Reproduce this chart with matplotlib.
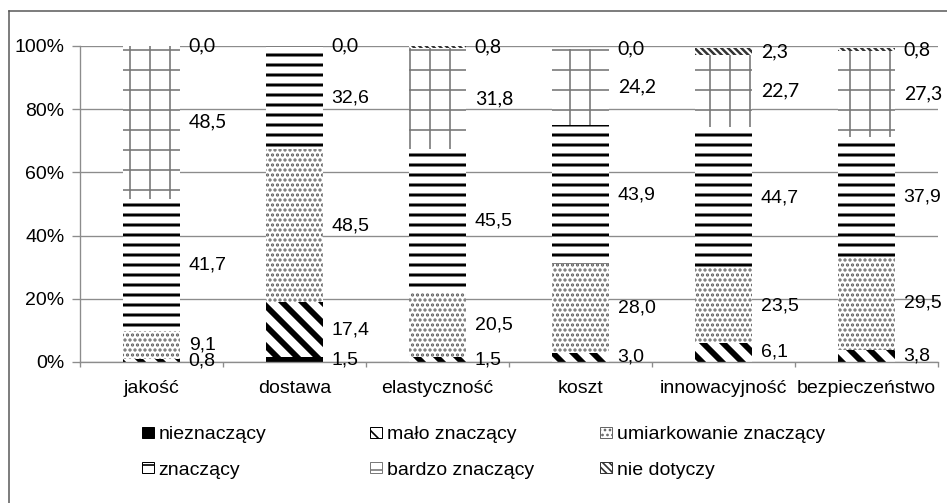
import matplotlib
matplotlib.use("Agg")
import matplotlib.pyplot as plt
import numpy as np
from matplotlib.patches import Patch
from matplotlib.lines import Line2D

# ---------------- data ----------------
categories = ["jakość", "dostawa", "elastyczność", "koszt", "innowacyjność", "bezpieczeństwo"]
series_names = ["nieznaczący", "mało znaczący", "umiarkowanie znaczący",
                "znaczący", "bardzo znaczący", "nie dotyczy"]
nieznaczacy = [np.nan, 1.5, np.nan, np.nan, np.nan, np.nan]
malo_znaczacy = [0.8, 17.4, 1.5, 3.0, 6.1, 3.8]
umiarkowanie_znaczacy = [9.1, 48.5, 20.5, 28.0, 23.5, 29.5]
znaczacy = [41.7, 32.6, 45.5, 43.9, 44.7, 37.9]
bardzo_znaczacy = [48.5, 0.0, 31.8, 24.2, 22.7, 27.3]
nie_dotyczy = [0.0, np.nan, 0.8, 0.0, 2.3, 0.8]
y_ticks = [0, 20, 40, 60, 80, 100]

series_values = [nieznaczacy, malo_znaczacy, umiarkowanie_znaczacy,
                 znaczacy, bardzo_znaczacy, nie_dotyczy]

# ---------------- styles ----------------
# (facecolor, hatch, hatch colour, hatch linewidth, label font)
styles = [
    ("black", None, "black", 1.0, "Liberation Sans"),
    ("white", "\\\\", "black", 3.5, "Liberation Sans"),
    ("white", "....", "#666666", 1.3, "Liberation Sans"),
    ("white", "--", "black", 1.8, "Liberation Sans"),
    ("white", "+", "#7a7a7a", 1.0, "Lato"),
    ("white", "\\\\\\\\\\\\", "#333333", 1.5, "Lato"),
]

DPI = 120
W, H = 947, 503
FS = 11.7
GRAY = "#8c8c8c"

plt.rcParams["font.family"] = ["Liberation Sans", "DejaVu Sans"]

fig = plt.figure(figsize=(W / DPI, H / DPI), dpi=DPI)
ax = fig.add_axes([80 / W, 1 - 362 / H, (938 - 80) / W, (362 - 46) / H])

x = np.arange(len(categories))
bar_w = 0.4
bottom = np.zeros(len(categories))
handles = {}
for name, vals, (fc, hatch, hc, hlw, lfont) in zip(series_names, series_values, styles):
    v = np.array(vals, dtype=float)
    vv = np.nan_to_num(v)
    with plt.rc_context({"hatch.linewidth": hlw}):
        bars = ax.bar(x, vv, bar_w, bottom=bottom, color=fc, edgecolor=hc,
                      linewidth=0, hatch=hatch, zorder=2)
        for p in bars:
            if hasattr(p, "set_hatch_linewidth"):
                p.set_hatch_linewidth(hlw)
        h = Patch(facecolor=fc, edgecolor=hc, hatch=hatch, linewidth=0.6)
        if hasattr(h, "set_hatch_linewidth"):
            h.set_hatch_linewidth(min(hlw, 2.0))
    handles[name] = h
    for i in range(len(categories)):
        if not np.isnan(v[i]):
            yc = bottom[i] + v[i] / 2
            ax.text(x[i] + bar_w / 2 + 0.06, yc, f"{v[i]:.1f}".replace(".", ","),
                    ha="left", va="center", fontsize=FS,
                    family=[lfont, "DejaVu Sans"], clip_on=False, zorder=5)
    bottom = bottom + vv

# ---------------- axes ----------------
ax.set_xlim(-0.5, len(categories) - 0.5)
ax.set_ylim(0, 100)
ax.set_yticks(y_ticks)
ax.set_yticklabels([f"{t}%" for t in y_ticks])
ax.set_xticks(x)
ax.set_xticklabels(categories)
ax.set_xticks(np.arange(-0.5, len(categories), 1.0), minor=True)
ax.tick_params(axis="y", length=4.8, width=0.8, color=GRAY, pad=4.5, labelsize=FS)
ax.tick_params(axis="x", which="major", length=0, pad=11, labelsize=FS)
ax.tick_params(axis="x", which="minor", length=3, width=0.8, color=GRAY)
for s in ["top", "right"]:
    ax.spines[s].set_visible(False)
for s in ["left", "bottom"]:
    ax.spines[s].set_color(GRAY)
    ax.spines[s].set_linewidth(0.8)
ax.yaxis.grid(True, color=GRAY, linewidth=0.8, zorder=0)
ax.set_axisbelow(True)

# ---------------- legend (3 columns at fixed positions) ----------------
legend_cols = [("nieznaczący", "znaczący"),
               ("mało znaczący", "bardzo znaczący"),
               ("umiarkowanie znaczący", "nie dotyczy")]
legend_x = [142, 370, 600]
for xp, names in zip(legend_x, legend_cols):
    fig.legend(handles=[handles[n] for n in names], labels=list(names),
               loc="upper left", bbox_to_anchor=(xp / W, 1 - 426 / H),
               frameon=False, borderpad=0, borderaxespad=0,
               handlelength=0.6, handleheight=0.5, handletextpad=0.25,
               labelspacing=0.95, fontsize=FS)

# ---------------- outer frame ----------------
fig.add_artist(Line2D([8.5 / W, 1.0], [1 - 10.5 / H, 1 - 10.5 / H],
                      transform=fig.transFigure, color="#555555", linewidth=0.9))
fig.add_artist(Line2D([8.5 / W, 8.5 / W], [1 - 10.5 / H, 0.0],
                      transform=fig.transFigure, color="#555555", linewidth=0.9))

fig.savefig("out.png", dpi=DPI)
